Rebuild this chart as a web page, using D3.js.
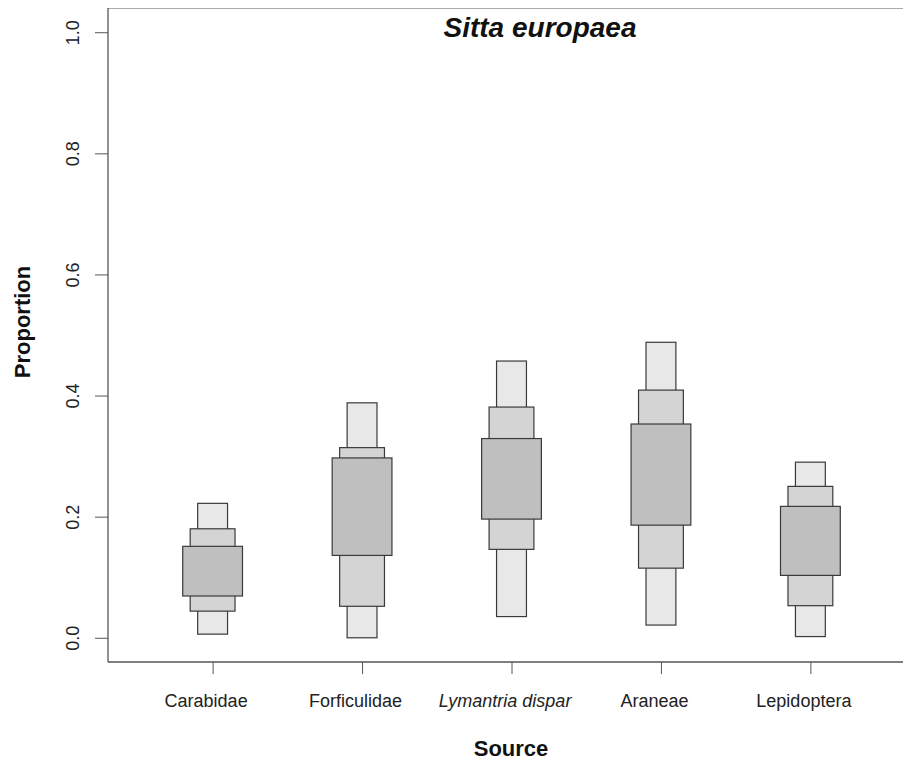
<!DOCTYPE html>
<html>
<head>
<meta charset="utf-8">
<script src="https://cdn.jsdelivr.net/npm/d3@7"></script>
<style>
  body { margin: 0; background: #fff; }
  svg text { font-family: "Liberation Sans", Arial, sans-serif; fill: #111; }
</style>
</head>
<body>
<svg id="chart" width="903" height="762"></svg>
<script>
// credible intervals per source (50%, 75%, 95%)
const categories = ['Carabidae', 'Forficulidae', 'Lymantria dispar', 'Araneae', 'Lepidoptera'];
const lo95 = [0.006, 0.000, 0.035, 0.021, 0.002];
const hi95 = [0.222, 0.388, 0.457, 0.488, 0.290];
const lo75 = [0.044, 0.052, 0.146, 0.115, 0.053];
const hi75 = [0.180, 0.314, 0.381, 0.409, 0.250];
const lo50 = [0.069, 0.136, 0.196, 0.186, 0.103];
const hi50 = [0.151, 0.297, 0.329, 0.353, 0.217];
const yTicks = [0, 0.2, 0.4, 0.6, 0.8, 1.0];

const svg = d3.select('#chart');

const x = d3.scaleLinear().domain([0.3, 5.7]).range([108, 915]);
const y = d3.scaleLinear().domain([-0.04, 1.04]).range([662, 8]);

// layers drawn widest interval first, narrowest on top
const layers = [
  {lo: lo95, hi: hi95, half: 0.1, fill: '#e8e8e8'},
  {lo: lo75, hi: hi75, half: 0.15, fill: '#d4d4d4'},
  {lo: lo50, hi: hi50, half: 0.2, fill: '#bfbfbf'}
];

layers.forEach((layer) => {
  svg.append('g')
    .selectAll('rect')
    .data(categories)
    .enter()
    .append('rect')
    .attr('x', (d, i) => x(i + 1 - layer.half))
    .attr('width', (d, i) => x(i + 1 + layer.half) - x(i + 1 - layer.half))
    .attr('y', (d, i) => y(layer.hi[i]))
    .attr('height', (d, i) => y(layer.lo[i]) - y(layer.hi[i]))
    .style('fill', layer.fill)
    .style('stroke', '#3a3a3a')
    .style('stroke-width', 1.2);
});

// plot box
svg.append('line')
  .attr('x1', 108).attr('x2', 903).attr('y1', 8.5).attr('y2', 8.5)
  .style('stroke', '#aaa').style('stroke-width', 1);
svg.append('line')
  .attr('x1', 108).attr('x2', 108).attr('y1', 8).attr('y2', 662)
  .style('stroke', '#555').style('stroke-width', 1.3);
svg.append('line')
  .attr('x1', 108).attr('x2', 903).attr('y1', 662).attr('y2', 662)
  .style('stroke', '#555').style('stroke-width', 1.3);

// y axis
const yAxis = svg.append('g').attr('transform', 'translate(108,0)')
  .call(d3.axisLeft(y).tickValues(yTicks).tickSize(13).tickFormat(d3.format('.1f')));
yAxis.select('.domain').remove();
yAxis.selectAll('.tick line').style('stroke', '#555');
yAxis.selectAll('.tick text')
  .attr('x', null).attr('dy', null)
  .attr('transform', 'translate(-29,0) rotate(-90)')
  .attr('text-anchor', 'middle')
  .style('font-size', '18px')
  .style('font-family', '"Liberation Sans", Arial, sans-serif')
  .style('fill', '#222');

// x axis
const xAxis = svg.append('g').attr('transform', 'translate(0,662)')
  .call(d3.axisBottom(x).tickValues(d3.range(1, categories.length + 1)).tickSize(12)
    .tickFormat((d) => categories[d - 1]));
xAxis.select('.domain').remove();
xAxis.selectAll('.tick line').style('stroke', '#555');
xAxis.selectAll('.tick text')
  .attr('x', -7)
  .attr('y', 45).attr('dy', null)
  .style('font-size', '18px')
  .style('font-family', '"Liberation Sans", Arial, sans-serif')
  .style('font-style', (d) => categories[d - 1] === 'Lymantria dispar' ? 'italic' : 'normal')
  .style('fill', '#222');

// titles
svg.append('text')
  .attr('x', 540).attr('y', 37)
  .attr('text-anchor', 'middle')
  .style('font-size', '28px')
  .style('font-weight', 'bold')
  .style('font-style', 'italic')
  .text('Sitta europaea');

svg.append('text')
  .attr('x', 511).attr('y', 756)
  .attr('text-anchor', 'middle')
  .style('font-size', '22px')
  .style('font-weight', 'bold')
  .text('Source');

svg.append('text')
  .attr('transform', 'translate(30,322) rotate(-90)')
  .attr('text-anchor', 'middle')
  .style('font-size', '22px')
  .style('font-weight', 'bold')
  .text('Proportion');
</script>
</body>
</html>
